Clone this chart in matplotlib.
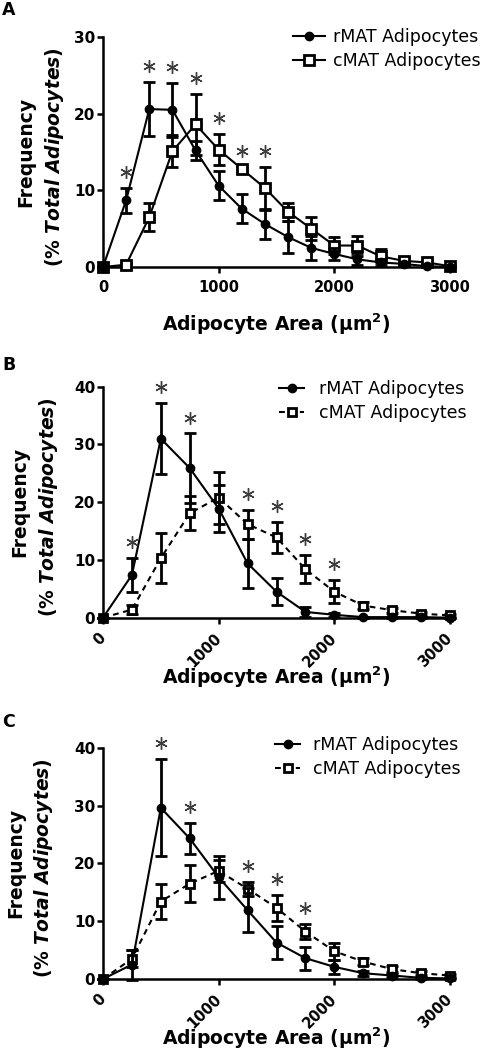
import matplotlib
matplotlib.use("Agg")
import matplotlib.pyplot as plt
from matplotlib.transforms import offset_copy
from matplotlib.lines import Line2D

plt.rcParams['font.family'] = ['DejaVu Sans']
plt.rcParams['mathtext.fontset'] = 'custom'
plt.rcParams['mathtext.it'] = 'DejaVu Sans:italic:bold'
plt.rcParams['mathtext.bf'] = 'DejaVu Sans:bold'
plt.rcParams['mathtext.rm'] = 'DejaVu Sans:bold'

# ---------------- data ----------------
panel_letters = ["A", "B", "C"]
series_names = ["rMAT Adipocytes", "cMAT Adipocytes"]

xA = [0, 200, 400, 600, 800, 1000, 1200, 1400, 1600, 1800, 2000, 2200, 2400, 2600, 2800, 3000]
rA = [0, 8.7, 20.6, 20.5, 15.2, 10.6, 7.6, 5.6, 3.9, 2.5, 1.7, 1.0, 0.6, 0.4, 0.1, 0.0]
rA_err = [0, 1.6, 3.5, 3.5, 1.3, 1.9, 1.9, 2.0, 2.1, 1.6, 0.8, 0.8, 0.5, 0.3, 0.1, 0]
cA = [0, 0.3, 6.5, 15.1, 18.6, 15.3, 12.8, 10.3, 7.2, 5.0, 2.8, 2.8, 1.4, 0.8, 0.6, 0.1]
cA_err = [0, 0.2, 1.8, 2.1, 4.0, 2.0, 0.3, 2.8, 1.2, 1.5, 1.1, 1.3, 0.9, 0.4, 0.3, 0.1]
sigA = [0, 1, 1, 1, 1, 1, 1, 1, 0, 0, 0, 0, 0, 0, 0, 0]

xB = [0, 250, 500, 750, 1000, 1250, 1500, 1750, 2000, 2250, 2500, 2750, 3000]
rB = [0, 7.4, 31.0, 25.9, 18.9, 9.4, 4.5, 1.0, 0.5, 0.1, 0.1, 0.1, 0]
rB_err = [0, 3.0, 6.2, 6.0, 4.0, 4.2, 2.3, 0.8, 0.3, 0.1, 0.1, 0.1, 0]
cB = [0, 1.4, 10.3, 18.1, 20.8, 16.2, 13.9, 8.4, 4.5, 2.1, 1.3, 0.7, 0.4]
cB_err = [0, 0.8, 4.3, 2.9, 4.5, 2.5, 2.7, 2.4, 2.0, 0.6, 0.4, 0.3, 0.3]
sigB = [0, 1, 1, 1, 0, 1, 1, 1, 1, 0, 0, 0, 0]

xC = [0, 250, 500, 750, 1000, 1250, 1500, 1750, 2000, 2250, 2500, 2750, 3000]
rC = [0, 2.5, 29.6, 24.3, 17.6, 11.9, 6.3, 3.6, 2.1, 1.0, 0.6, 0.2, 0.1]
rC_err = [0, 2.6, 8.4, 2.7, 3.7, 3.8, 2.9, 2.0, 1.2, 0.4, 0.3, 0.2, 0.1]
cC = [0, 3.5, 13.4, 16.5, 18.7, 15.6, 12.3, 8.2, 4.8, 3.0, 1.7, 1.0, 0.6]
cC_err = [0, 1.5, 3.0, 3.2, 1.9, 1.2, 2.2, 1.3, 1.5, 0.6, 0.5, 0.3, 0.3]
sigC = [0, 0, 1, 1, 0, 1, 1, 1, 0, 0, 0, 0, 0]

yticksA = [0, 10, 20, 30]
yticksBC = [0, 10, 20, 30, 40]
xticks = [0, 1000, 2000, 3000]

# ---------------- figure ----------------
W, H = 480, 1049
fig = plt.figure(figsize=(W / 100, H / 100), dpi=100)

def fx(px):
    return px / W

def fy(py):
    return 1 - py / H

panels = [
    dict(letter=panel_letters[0], x=xA, r=rA, re=rA_err, c=cA, ce=cA_err, sig=sigA,
         top=37, bot=267, ymax=30, yt=yticksA, dashed=False, rot=False,
         leg=(293, 28), hl=1.85, htp=0.45, ms_sq=7.5, letter_y=15, xl_off=64,
         yl1=26, yl2=55),
    dict(letter=panel_letters[1], x=xB, r=rB, re=rB_err, c=cB, ce=cB_err, sig=sigB,
         top=386.7, bot=617.7, ymax=40, yt=yticksBC, dashed=True, rot=True,
         leg=(279, 380), hl=1.45, htp=0.85, ms_sq=6.2, letter_y=370, xl_off=66,
         yl1=20, yl2=49),
    dict(letter=panel_letters[2], x=xC, r=rC, re=rC_err, c=cC, ce=cC_err, sig=sigC,
         top=747.7, bot=979, ymax=40, yt=yticksBC, dashed=True, rot=True,
         leg=(275, 736), hl=1.45, htp=0.75, ms_sq=6.2, letter_y=727, xl_off=66,
         yl1=16, yl2=44),
]

left_px, right_px = 103, 450
LW = 1.5

for p in panels:
    ax = fig.add_axes([fx(left_px), fy(p['bot']), fx(right_px - left_px),
                       (p['bot'] - p['top']) / H])
    ls_c = (0, (2.8, 2.2)) if p['dashed'] else '-'
    # cMAT
    lc = ax.errorbar(p['x'], p['c'], yerr=p['ce'], color='black', lw=LW, ls=ls_c,
                     marker='s', ms=p['ms_sq'], mfc='white', mec='black', mew=2.0,
                     elinewidth=2.0, capsize=4.5, capthick=2.0, clip_on=False, zorder=3)
    # rMAT
    lr = ax.errorbar(p['x'], p['r'], yerr=p['re'], color='black', lw=LW, ls='-',
                     marker='o', ms=6, mfc='black', mec='black',
                     elinewidth=2.0, capsize=4.5, capthick=2.0, clip_on=False, zorder=4)
    for art in (lc, lr):
        for ch in art.get_children():
            ch.set_clip_on(False)

    # significance asterisks
    sx, sy = [], []
    for xi, s, r, re, c, ce in zip(p['x'], p['sig'], p['r'], p['re'], p['c'], p['ce']):
        if s:
            sx.append(xi)
            sy.append(max(r + re, c + ce))
    tr = offset_copy(ax.transData, fig=fig, y=11.5, units='points')
    ax.plot(sx, sy, ls='none', marker=(6, 2, 0), ms=9, mew=1.0, color='#3c3c3c',
            transform=tr, clip_on=False, zorder=5)

    ax.set_xlim(0, 3000)
    ax.set_ylim(0, p['ymax'])
    ax.set_xticks(xticks)
    ax.set_yticks(p['yt'])
    for s in ('top', 'right'):
        ax.spines[s].set_visible(False)
    for s in ('left', 'bottom'):
        ax.spines[s].set_linewidth(1.8)
    ax.tick_params(axis='y', length=4.5, width=1.8, pad=1, labelsize=11)
    ax.tick_params(axis='x', length=4.5, width=1.8, pad=(8.5 if p['rot'] else 5), labelsize=10.5)
    for lab in ax.get_xticklabels() + ax.get_yticklabels():
        lab.set_fontweight('bold')
    if p['rot']:
        for lab in ax.get_xticklabels():
            lab.set_rotation(45)
            lab.set_ha('right')
            lab.set_va('center')
            lab.set_rotation_mode('anchor')

    # axis labels
    axh = p['bot'] - p['top']
    axw = right_px - left_px
    ax.text((p['yl1'] - left_px) / axw, 0.5, "Frequency", transform=ax.transAxes,
            rotation=90, ha='center', va='center', fontsize=13.5, fontweight='bold')
    ax.text((p['yl2'] - left_px) / axw, 0.48, r"(% $\mathit{Total\ Adipocytes}$)",
            transform=ax.transAxes, rotation=90, ha='center', va='center',
            fontsize=13.5, fontweight='bold')
    ax.text(0.5, -p['xl_off'] / axh, r"Adipocyte Area (μm$^{\mathbf{2}}$)",
            transform=ax.transAxes, ha='center', va='baseline',
            fontsize=13.5, fontweight='bold')

    # panel letter
    fig.text(fx(2), fy(p['letter_y']), p['letter'], fontsize=12.5, fontweight='bold',
             ha='left', va='baseline')

    # legend (plain line + marker handles)
    h_r = Line2D([], [], color='black', lw=LW, ls='-', marker='o', ms=6,
                 mfc='black', mec='black')
    h_c = Line2D([], [], color='black', lw=LW, ls=ls_c, marker='s', ms=p['ms_sq'],
                 mfc='white', mec='black', mew=2.0)
    ax.legend([h_r, h_c], series_names, loc='upper left',
              bbox_to_anchor=(fx(p['leg'][0]), fy(p['leg'][1])),
              bbox_transform=fig.transFigure, frameon=False, fontsize=12.5,
              numpoints=1, handlelength=p['hl'], handletextpad=p['htp'],
              labelspacing=0.35, borderpad=0, borderaxespad=0)

fig.savefig("out.png", dpi=100)
